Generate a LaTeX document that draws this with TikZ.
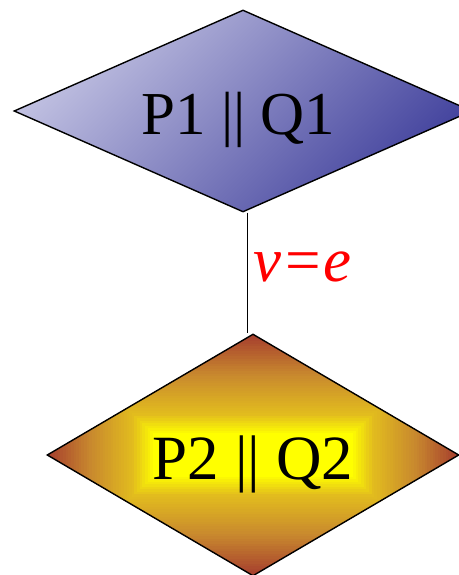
\documentclass[tikz,border=0pt]{standalone}
\usepackage{fontspec}
\setmainfont{Liberation Serif}
\usetikzlibrary{shapes.geometric,calc}
\definecolor{bluelight}{HTML}{DCDCF0}
\definecolor{bluedark}{HTML}{28288F}
\definecolor{edgebrown}{HTML}{A63E2E}
\definecolor{midorange}{HTML}{C8882E}
\definecolor{goldband}{HTML}{E2BC1E}
\definecolor{coreyellow}{HTML}{FFFF00}
\tikzset{every path/.style={semithick}}
\tikzset{
  state/.style={draw, shape=diamond, inner sep=0pt, line width=1.4pt},
  bluestate/.style={state, minimum width=458pt, minimum height=202pt, aspect=2.27,
    font=\fontsize{61}{61}\selectfont, text height=62pt, text depth=14pt,
    path picture={\fill[left color=bluelight, right color=bluedark, shading angle=45]
      ($(path picture bounding box.center)+(-230,-230)$) rectangle ++(460,460);}},
  goldstate/.style={state, minimum width=412pt, minimum height=242pt, aspect=1.7,
    font=\fontsize{63}{63}\selectfont, text height=64pt, text depth=14pt,
    path picture={\foreach \i in {40,39,...,0}{%
      \ifnum\i>24 \pgfmathtruncatemacro\pct{(\i-24)*100/16}\colorlet{band}{edgebrown!\pct!midorange}%
      \else\ifnum\i>8 \pgfmathtruncatemacro\pct{(\i-8)*100/16}\colorlet{band}{midorange!\pct!goldband}%
      \else\pgfmathtruncatemacro\pct{\i*100/8}\colorlet{band}{goldband!\pct!coreyellow}\fi\fi
      \fill[band] ($(path picture bounding box.center)+(-100-2.65*\i,-22-2.475*\i)$)
        rectangle ($(path picture bounding box.center)+(100+2.65*\i,22+2.475*\i)$);}}},
  guard/.style={right, inner sep=6pt, text=red, font=\fontsize{63}{63}\selectfont\itshape}
}

\begin{document}
\begin{tikzpicture}[x=1pt,y=1pt]
  \useasboundingbox (0,0) rectangle (458,575);
  \node[bluestate] (p1q1) at (243,464) {P1 || Q1\hspace*{9pt}};
  \node[goldstate] (p2q2) at (253,120) {P2 || Q2};

  \draw[thin] ([xshift=4pt]p1q1.south) -- node[guard, pos=0.45] {v=e} ([xshift=-6pt]p2q2.north);
\end{tikzpicture}
\end{document}
